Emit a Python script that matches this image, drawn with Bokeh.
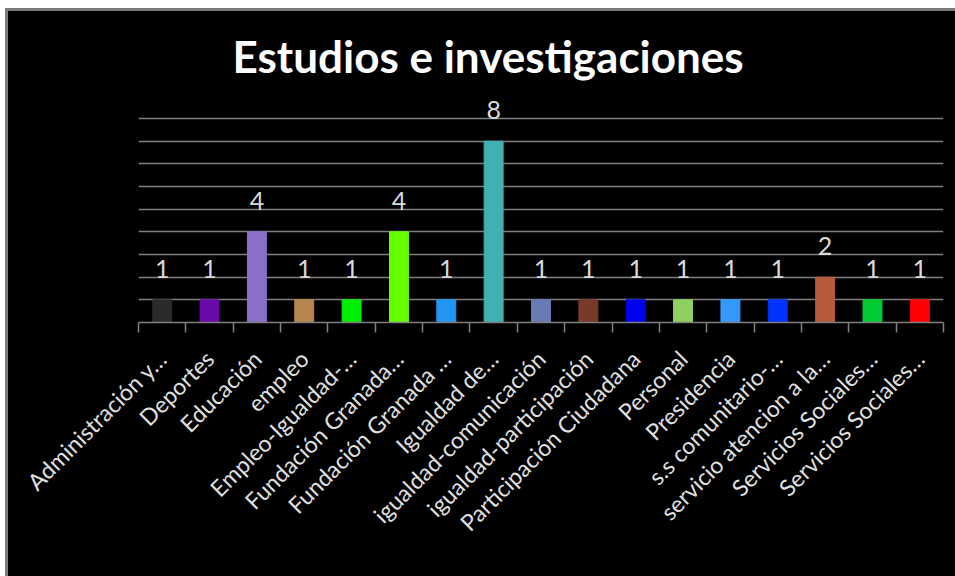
import math
from bokeh.plotting import figure
from bokeh.models import ColumnDataSource, FixedTicker, Range1d, LabelSet
from bokeh.core.properties import value
from bokeh.embed import file_html
from bokeh.resources import INLINE

categories = ["Administración y…", "Deportes", "Educación", "empleo", "Empleo-Igualdad-…",
              "Fundación Granada…", "Fundación Granada …", "Igualdad de…", "igualdad-comunicación",
              "igualdad-participación", "Participación Ciudadana", "Personal", "Presidencia",
              "s.s comunitario-…", "servicio atencion a la…", "Servicios Sociales…", "Servicios Sociales…"]
values = [1, 1, 4, 1, 1, 4, 1, 8, 1, 1, 1, 1, 1, 1, 2, 1, 1]
colors = ["#2b2b2b", "#6a0aa8", "#8b6fc9", "#b5874e", "#00ee00", "#66ff00", "#2196f3", "#40b0b0",
          "#6a7ab5", "#7a3a2a", "#0000ee", "#90d060", "#3399ff", "#0033ff", "#b55a3e", "#00cc33",
          "#ff0000"]
y_ticks = [1, 2, 3, 4, 5, 6, 7, 8, 9]

n = len(categories)
xs = list(range(n))
src = ColumnDataSource(dict(x=xs, top=values, color=colors, lab=[str(v) for v in values]))

p = figure(width=950, height=568, output_backend="svg", toolbar_location=None,
           x_range=Range1d(-0.5, n - 0.5), y_range=Range1d(0, 10.5),
           y_axis_location=None, title="Estudios e investigaciones")
p.styles = {"border-left": "3px solid #7a7a7a", "border-top": "3px solid #7a7a7a",
            "margin-left": "5px", "margin-top": "8px", "background-color": "black"}
p.background_fill_color = "black"
p.border_fill_color = "black"
p.outline_line_color = None
p.min_border_left = 130
p.min_border_right = 15
p.min_border_top = 73
p.min_border_bottom = 257

p.title.align = "left"
p.title.offset = 94
p.title.text_color = "white"
p.title.text_font = "Lato"
p.title.text_font_size = "44px"
p.title.text_font_style = "bold"
p.title.standoff = 6

p.vbar(x="x", top="top", width=0.4, color="color", source=src)

labels = LabelSet(x="x", y="top", text="lab", source=src, text_align="center",
                  text_baseline="bottom", y_offset=22, text_color="#d9d9d9",
                  text_font=value("Lato"), text_font_size="25px")
p.add_layout(labels)

p.ygrid.ticker = FixedTicker(ticks=y_ticks)
p.ygrid.grid_line_color = "#808080"
p.ygrid.grid_line_width = 1.5
p.xgrid.visible = False

ax = p.xaxis[0]
ax.ticker = FixedTicker(ticks=xs, minor_ticks=[i - 0.5 for i in range(n + 1)])
ax.major_label_overrides = {i: c for i, c in enumerate(categories)}
ax.major_label_orientation = math.pi / 4
ax.major_label_text_color = "#e0e0e0"
ax.major_label_text_font = "Lato"
ax.major_label_text_font_size = "23px"
ax.major_label_standoff = 22
ax.major_tick_line_color = None
ax.minor_tick_line_color = "#808080"
ax.minor_tick_out = 10
ax.minor_tick_in = 0
ax.minor_tick_line_width = 1.5
ax.axis_line_color = "#808080"
ax.axis_line_width = 1.5

open("out.html", "w").write(file_html(p, INLINE))
